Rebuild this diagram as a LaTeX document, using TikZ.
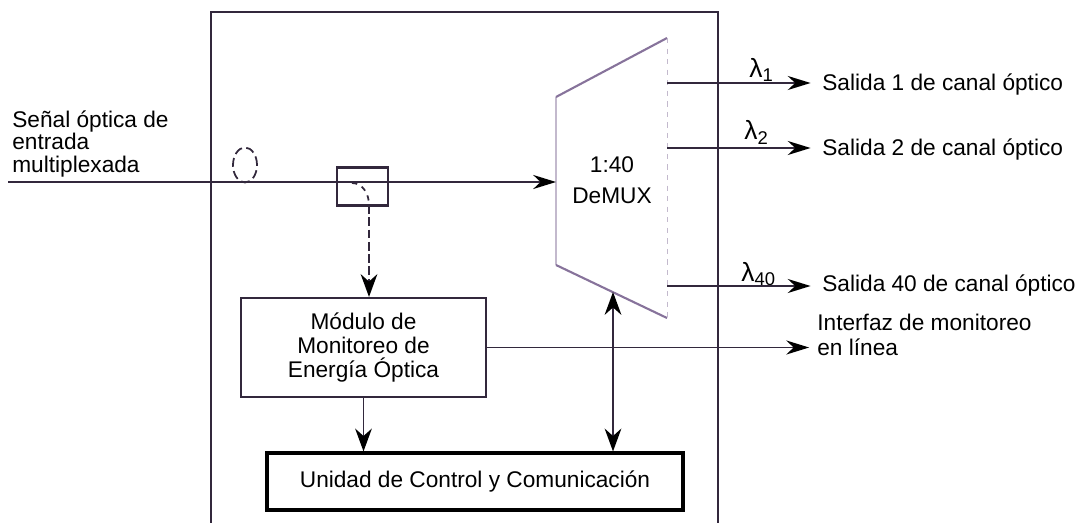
\documentclass[tikz,border=0pt]{standalone}
\usepackage{fontspec}
\setmainfont{Liberation Sans}
\usepackage{tikz}
\usetikzlibrary{arrows.meta, shapes.geometric}

\definecolor{lnclr}{RGB}{50,40,60}
\definecolor{dmxclr}{RGB}{135,115,155}
\definecolor{dmxlt}{RGB}{195,185,205}

\begin{document}
\begin{tikzpicture}[x=0.02cm, y=-0.02cm,
	every node/.style={font=\fontsize{12.9}{13.9}\selectfont},
	harrow/.style={-{Stealth[length=13pt, width=8pt, black]}},
	varrow/.style={-{Stealth[length=13pt, width=9.5pt, black]}}]
	\useasboundingbox (0,0) rectangle (1077,523);
	% caja exterior
	\draw[lnclr, line width=1.2pt] (211,523) -- (211,12) -- (718,12) -- (718,523);
	% DeMUX
	\coordinate (dmx-tl) at (556,97);
	\coordinate (dmx-tr) at (667,38);
	\coordinate (dmx-br) at (667,318);
	\coordinate (dmx-bl) at (556,265);
	\draw[dmxlt, line width=0.6pt] (dmx-bl) -- (dmx-tl);
	\draw[dmxclr, line width=1.2pt] (dmx-tl) -- (dmx-tr);
	\draw[dmxclr, line width=1.2pt] (dmx-bl) -- (dmx-br);
	\draw[dmxlt, dashed, line width=0.5pt] (dmx-tr) -- (dmx-br);
	\node[align=center] (dmx) at (612,180) {1:40\\[3.7pt]DeMUX};
	\coordinate (dmx-in) at (556,182);
	\coordinate (dmx-o1) at (667,83);
	\coordinate (dmx-o2) at (667,148);
	\coordinate (dmx-o40) at (667,286);
	\coordinate (dmx-ctl) at (613,292);
	% entrada
	\node[anchor=north west, inner sep=0, align=left, font=\fontsize{12.9}{12.8}\selectfont] (src) at (12,110) {Señal óptica de\\entrada\\multiplexada};
	\coordinate (src-l) at (8,182);
	\node[draw=lnclr, dash pattern=on 5pt off 2.5pt, ellipse, line width=1pt, minimum width=0.48cm, minimum height=0.7cm, inner sep=0] (loop) at (245,165) {};
	\node[draw=lnclr, line width=1.5pt, minimum width=1.02cm, minimum height=0.76cm, inner sep=0] (tap) at (362.5,186.5) {};
	\coordinate (tap-in) at (352,183);
	\coordinate (tap-out) at (369,205);
	\draw[lnclr, line width=1.1pt, harrow] (src-l) -- (dmx-in);
	\draw[lnclr, dashed, line width=1pt] (tap-in) to[out=0, in=90] (tap-out);
	% bloques
	\node[draw=lnclr, line width=1.2pt, align=center, minimum width=4.9cm, minimum height=1.98cm] (mod) at (363.5,347.5) {Módulo de\\Monitoreo de\\Energía Óptica};
	\node[draw=black, line width=1.8pt, minimum width=8.32cm, minimum height=1.14cm] (ctl) at (475,481.5) {Unidad de Control y Comunicación};
	\draw[lnclr, dash pattern=on 5pt off 2pt, line width=1pt, varrow] (tap-out) -- (tap-out |- mod.north);
	\draw[lnclr, line width=1.1pt, varrow] (mod.south) -- (mod.south |- ctl.north);
	\draw[lnclr, line width=1.1pt, {Stealth[length=13pt, width=9.5pt, black]}-{Stealth[length=13pt, width=9.5pt, black]}] (dmx-ctl) -- (dmx-ctl |- ctl.north);
	% salidas
	\node[anchor=base west, inner sep=0] (sal1) at (822,91) {Salida 1 de canal óptico};
	\node[anchor=base west, inner sep=0] (sal2) at (822,156) {Salida 2 de canal óptico};
	\node[anchor=base west, inner sep=0] (sal40) at (822,292) {Salida 40 de canal óptico};
	\node[anchor=base west, inner sep=0, align=left, font=\fontsize{12.9}{14.2}\selectfont] (ifz) at (817,355) {Interfaz de monitoreo\\en línea};
	\node[anchor=base west, inner sep=0, font=\fontsize{15}{15}\selectfont] (lam1) at (749,78) {λ\textsubscript{1}};
	\node[anchor=base west, inner sep=0, font=\fontsize{15}{15}\selectfont] (lam2) at (744,140) {λ\textsubscript{2}};
	\node[anchor=base west, inner sep=0, font=\fontsize{15}{15}\selectfont] (lam40) at (741,281) {λ\textsubscript{40}};
	\draw[lnclr, line width=1.1pt, harrow, shorten >=6.5pt] (dmx-o1) -- (dmx-o1 -| sal1.west);
	\draw[lnclr, line width=1.1pt, harrow, shorten >=6.5pt] (dmx-o2) -- (dmx-o2 -| sal2.west);
	\draw[lnclr, line width=1.1pt, harrow, shorten >=6.5pt] (dmx-o40) -- (dmx-o40 -| sal40.west);
	\draw[lnclr, line width=1.1pt, harrow, shorten >=4.5pt] (mod.east) -- (mod.east -| ifz.west);
\end{tikzpicture}
\end{document}
